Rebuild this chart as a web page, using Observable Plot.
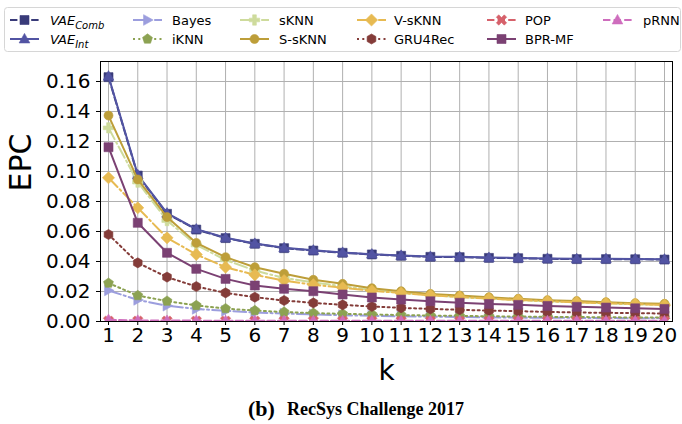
<!DOCTYPE html>
<html>
<head>
<meta charset="utf-8">
<script src="https://cdn.jsdelivr.net/npm/d3@7"></script>
<script src="https://cdn.jsdelivr.net/npm/@observablehq/plot@0.6"></script>
<style>
  html, body { margin: 0; padding: 0; background: white; }
  body { width: 682px; height: 424px; position: relative; overflow: hidden; font-family: "DejaVu Sans", sans-serif; }
  #legend { position: absolute; left: 0; top: 0; }
  #chart { position: absolute; left: 0; top: 55px; }
  #caption { position: absolute; left: 0; width: 682px; top: 396px; text-align: left; font-family: "Liberation Serif", "Times New Roman", serif; font-weight: bold; color: #000; white-space: nowrap; }
</style>
</head>
<body>
<div id="legend"></div>
<div id="chart"></div>
<div id="caption"><span style="position:absolute;left:248px;font-size:22px;top:0">(b)</span><span style="position:absolute;left:287px;font-size:18px;top:3px">RecSys Challenge 2017</span></div>
<script>
// ---- data ----
const k = [1, 2, 3, 4, 5, 6, 7, 8, 9, 10, 11, 12, 13, 14, 15, 16, 17, 18, 19, 20];
const xTickLabels = ["1","2","3","4","5","6","7","8","9","10","11","12","13","14","15","16","17","18","19","20"];
const yTicks = [0.00, 0.02, 0.04, 0.06, 0.08, 0.10, 0.12, 0.14, 0.16];

const seriesNames = ["VAE_Comb", "VAE_Int", "Bayes", "iKNN", "sKNN", "S-sKNN", "V-sKNN", "GRU4Rec", "POP", "BPR-MF", "pRNN"];

const vaeComb = [0.1629, 0.0973, 0.0718, 0.0613, 0.0556, 0.0518, 0.0489, 0.0473, 0.0458, 0.0447, 0.0438, 0.0431, 0.0429, 0.0424, 0.0422, 0.0418, 0.0416, 0.0416, 0.0415, 0.0413];
const vaeInt  = [0.1635, 0.0978, 0.0722, 0.0616, 0.0558, 0.0520, 0.0491, 0.0475, 0.0460, 0.0449, 0.0440, 0.0433, 0.0431, 0.0426, 0.0424, 0.0420, 0.0418, 0.0418, 0.0417, 0.0415];
const bayes   = [0.0207, 0.0144, 0.0105, 0.0084, 0.0071, 0.0060, 0.0053, 0.0047, 0.0042, 0.0038, 0.0035, 0.0032, 0.0030, 0.0028, 0.0026, 0.0025, 0.0024, 0.0023, 0.0022, 0.0021];
const iknn    = [0.0256, 0.0173, 0.0136, 0.0107, 0.0086, 0.0073, 0.0063, 0.0056, 0.0051, 0.0047, 0.0043, 0.0040, 0.0037, 0.0035, 0.0033, 0.0031, 0.0030, 0.0028, 0.0027, 0.0026];
const sknn    = [0.1291, 0.0929, 0.0673, 0.0510, 0.0410, 0.0340, 0.0290, 0.0260, 0.0235, 0.0210, 0.0192, 0.0176, 0.0163, 0.0153, 0.0143, 0.0135, 0.0128, 0.0121, 0.0115, 0.0110];
const ssknn   = [0.1373, 0.0947, 0.0696, 0.0524, 0.0429, 0.0362, 0.0318, 0.0278, 0.0251, 0.0222, 0.0202, 0.0184, 0.0173, 0.0162, 0.0151, 0.0142, 0.0136, 0.0129, 0.0122, 0.0118];
const vsknn   = [0.0958, 0.0758, 0.0558, 0.0447, 0.0362, 0.0311, 0.0273, 0.0245, 0.0225, 0.0205, 0.0190, 0.0175, 0.0163, 0.0153, 0.0143, 0.0135, 0.0128, 0.0121, 0.0116, 0.0110];
const gru4rec = [0.0580, 0.0391, 0.0296, 0.0233, 0.0191, 0.0162, 0.0140, 0.0124, 0.0111, 0.0100, 0.0091, 0.0084, 0.0078, 0.0073, 0.0069, 0.0064, 0.0060, 0.0058, 0.0056, 0.0053];
const pop     = [0.0003, 0.0003, 0.0003, 0.0003, 0.0003, 0.0003, 0.0003, 0.0003, 0.0003, 0.0003, 0.0003, 0.0003, 0.0003, 0.0003, 0.0003, 0.0003, 0.0003, 0.0003, 0.0003, 0.0003];
const bprmf   = [0.1162, 0.0658, 0.0458, 0.0351, 0.0284, 0.0240, 0.0218, 0.0202, 0.0180, 0.0160, 0.0146, 0.0135, 0.0125, 0.0117, 0.0111, 0.0104, 0.0098, 0.0093, 0.0088, 0.0084];
const prnn    = [0.0012, 0.0007, 0.0006, 0.0006, 0.0005, 0.0005, 0.0005, 0.0005, 0.0005, 0.0005, 0.0005, 0.0005, 0.0005, 0.0005, 0.0005, 0.0005, 0.0005, 0.0005, 0.0005, 0.0005];

// ---- custom marker symbols (size = r^2 * PI) ----
const R = s => Math.sqrt(s / Math.PI);
function poly(ctx, pts) { ctx.moveTo(pts[0][0], pts[0][1]); for (let i = 1; i < pts.length; i++) ctx.lineTo(pts[i][0], pts[i][1]); ctx.closePath(); }
const symSquare = { draw(ctx, s) { const r = R(s); ctx.rect(-r, -r, 2 * r, 2 * r); } };
const symCircle = { draw(ctx, s) { const r = R(s); ctx.moveTo(r, 0); ctx.arc(0, 0, r, 0, 2 * Math.PI); } };
const symTriUp = { draw(ctx, s) { const r = R(s) * 1.25; poly(ctx, [[0, -r], [r * 0.95, r * 0.7], [-r * 0.95, r * 0.7]]); } };
const symTriRight = { draw(ctx, s) { const r = R(s) * 1.25; poly(ctx, [[r, 0], [-r * 0.7, -r * 0.95], [-r * 0.7, r * 0.95]]); } };
const symDiamond = { draw(ctx, s) { const r = R(s) * 1.35; poly(ctx, [[0, -r], [r, 0], [0, r], [-r, 0]]); } };
const regular = (n, rot, scale) => ({ draw(ctx, s) { const r = R(s) * scale; const pts = []; for (let i = 0; i < n; i++) { const a = rot + i * 2 * Math.PI / n; pts.push([r * Math.cos(a), r * Math.sin(a)]); } poly(ctx, pts); } });
const symPentagon = regular(5, -Math.PI / 2, 1.15);
const symHexagon = regular(6, -Math.PI / 2, 1.12);
function crossPts(r, t, ang) {
  const base = [[-t, -r], [t, -r], [t, -t], [r, -t], [r, t], [t, t], [t, r], [-t, r], [-t, t], [-r, t], [-r, -t], [-t, -t]];
  const c = Math.cos(ang), sn = Math.sin(ang);
  return base.map(([x, y]) => [x * c - y * sn, x * sn + y * c]);
}
const symPlus = { draw(ctx, s) { const r = R(s) * 1.15; poly(ctx, crossPts(r, r * 0.36, 0)); } };
const symX = { draw(ctx, s) { const r = R(s) * 1.25; poly(ctx, crossPts(r, r * 0.3, Math.PI / 4)); } };

const DASHED = "7.4,3.2", DASHDOT = "12.8,3.2,2,3.2", DOTTED = "2,3.3", SOLID = null;

const styles = {
  "VAE_Comb": { data: vaeComb, color: "#393b79", dash: DASHED, symbol: symSquare },
  "VAE_Int":  { data: vaeInt,  color: "#5254a3", dash: SOLID,  symbol: symTriUp },
  "Bayes":    { data: bayes,   color: "#9c9ede", dash: DASHDOT, symbol: symTriRight },
  "iKNN":     { data: iknn,    color: "#8ca252", dash: DOTTED, symbol: symPentagon },
  "sKNN":     { data: sknn,    color: "#cedb9c", dash: DASHDOT, symbol: symPlus },
  "S-sKNN":   { data: ssknn,   color: "#bd9e39", dash: SOLID,  symbol: symCircle },
  "V-sKNN":   { data: vsknn,   color: "#e7ba52", dash: DASHDOT, symbol: symDiamond },
  "GRU4Rec":  { data: gru4rec, color: "#843c39", dash: DOTTED, symbol: symHexagon },
  "POP":      { data: pop,     color: "#d6616b", dash: DASHED, symbol: symX },
  "BPR-MF":   { data: bprmf,   color: "#7b4173", dash: SOLID,  symbol: symSquare },
  "pRNN":     { data: prnn,    color: "#ce6dbd", dash: DASHED, symbol: symTriUp }
};

const MR = 4.5;
const marks = [
  Plot.gridX(k, { stroke: "#b0b0b0", strokeOpacity: 1, strokeWidth: 1 }),
  Plot.gridY(yTicks, { stroke: "#b0b0b0", strokeOpacity: 1, strokeWidth: 1 })
];
for (const name of seriesNames) {
  const st = styles[name];
  const rows = k.map((kk, i) => ({ k: kk, v: st.data[i] }));
  marks.push(Plot.line(rows, { x: "k", y: "v", stroke: st.color, strokeWidth: 2, strokeDasharray: st.dash, clip: true }));
  marks.push(Plot.dot(rows, { x: "k", y: "v", r: MR, symbol: st.symbol, fill: st.color, stroke: st.color, strokeWidth: 0.6, clip: true }));
}
marks.push(
  Plot.frame({ stroke: "black", strokeWidth: 1 }),
  Plot.axisX(k, { tickFormat: (d, i) => xTickLabels[i], tickSize: 4, tickPadding: 2, fontSize: 20, label: null }),
  Plot.axisY(yTicks, { tickFormat: d => d.toFixed(2), tickSize: 4, tickPadding: 6, fontSize: 20, label: null }),
  Plot.text(["EPC"], { frameAnchor: "left", dx: -79, rotate: -90, fontSize: 30, fill: "black" }),
  Plot.text(["k"], { frameAnchor: "bottom", dy: 50, fontSize: 28, fill: "black", lineAnchor: "middle" })
);

const chart = Plot.plot({
  width: 682,
  height: 330,
  marginLeft: 100,
  marginRight: 10,
  marginTop: 6,
  marginBottom: 64,
  x: { type: "linear", domain: [0.7266, 20.273] },
  y: { type: "linear", domain: [0, 0.17333] },
  style: { fontFamily: "DejaVu Sans", color: "black", background: "white", overflow: "visible" },
  marks
});
document.getElementById("chart").appendChild(chart);

// ---- legend (HTML/SVG above the chart) ----
const legendItems = [
  { name: "VAE_Comb", label: ["VAE", "Comb"], hx: 10, tx: 50, row: 0 },
  { name: "VAE_Int", label: ["VAE", "Int"], hx: 10, tx: 50, row: 1 },
  { name: "Bayes", label: "Bayes", hx: 133, tx: 172, row: 0 },
  { name: "iKNN", label: "iKNN", hx: 133, tx: 172, row: 1 },
  { name: "sKNN", label: "sKNN", hx: 240, tx: 279, row: 0 },
  { name: "S-sKNN", label: "S-sKNN", hx: 240, tx: 279, row: 1 },
  { name: "V-sKNN", label: "V-sKNN", hx: 357, tx: 394, row: 0 },
  { name: "GRU4Rec", label: "GRU4Rec", hx: 357, tx: 394, row: 1 },
  { name: "POP", label: "POP", hx: 487, tx: 525, row: 0 },
  { name: "BPR-MF", label: "BPR-MF", hx: 487, tx: 525, row: 1 },
  { name: "pRNN", label: "pRNN", hx: 603, tx: 643, row: 0 }
];
const rowY = [20, 39];
const lsvg = d3.select("#legend").append("svg").attr("width", 682).attr("height", 55);
lsvg.append("rect").attr("x", 4.5).attr("y", 7.5).attr("width", 676).attr("height", 44).attr("rx", 3)
  .attr("fill", "white").attr("stroke", "#d6d6d6").attr("stroke-width", 1);
for (const it of legendItems) {
  const st = styles[it.name];
  const y = rowY[it.row];
  lsvg.append("line").attr("x1", it.hx).attr("x2", it.hx + 29).attr("y1", y).attr("y2", y)
    .attr("stroke", st.color).attr("stroke-width", 2).attr("stroke-dasharray", st.dash);
  lsvg.append("path").attr("transform", `translate(${it.hx + 14.5},${y})`)
    .attr("d", d3.symbol(st.symbol, MR * MR * Math.PI)())
    .attr("fill", st.color).attr("stroke", st.color).attr("stroke-width", 0.6);
  const t = lsvg.append("text").attr("x", it.tx).attr("y", y).attr("dy", "0.36em")
    .attr("font-family", "DejaVu Sans").attr("font-size", 13).attr("fill", "black");
  if (Array.isArray(it.label)) {
    t.append("tspan").attr("font-style", "italic").text(it.label[0]);
    t.append("tspan").attr("font-style", "italic").attr("font-size", 10).attr("dy", "0.45em").text(it.label[1]);
  } else {
    t.text(it.label);
  }
}
</script>
</body>
</html>
